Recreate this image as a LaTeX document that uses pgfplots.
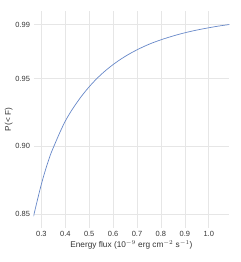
\documentclass[border=0pt]{standalone}
\usepackage{pgfplots}
\pgfplotsset{compat=1.18}
\usepackage{fontspec}
\setmainfont{Liberation Sans}
\definecolor{gridc}{HTML}{E6E6E6}
\definecolor{linec}{HTML}{6687C8}
\definecolor{txtc}{HTML}{333333}
\begin{document}
\begin{tikzpicture}
\begin{axis}[
  name=ax,
  scale only axis,
  width=195.8bp, height=217bp,
  xmin=0.267, xmax=1.086,
  ymin=0.8396, ymax=1.0,
  xtick={0.3,0.4,0.5,0.6,0.7,0.8,0.9,1.0},
  ytick={0.85,0.90,0.95,0.99},
  xticklabel style={/pgf/number format/.cd,fixed,fixed zerofill,precision=1},
  yticklabel style={/pgf/number format/.cd,fixed,fixed zerofill,precision=2},
  /pgf/number format/assume math mode=true,
  grid=major,
  major grid style={gridc, line width=0.6pt},
  x axis line style={draw=none},
  y axis line style={gridc, line width=0.6pt},
  tick style={draw=none},
  ticklabel style={font=\fontsize{7.5}{8.5}\selectfont, text=txtc},
  label style={font=\fontsize{8.3}{10}\selectfont, text=txtc},
  xlabel={Energy flux (10$^{-9}$ erg cm$^{-2}$ s$^{-1}$)},
  ylabel={P(< F)},
  xlabel style={yshift=3pt},
  ylabel style={yshift=-4pt},
  xtick pos=bottom, ytick pos=left,
]
\addplot[linec, line width=0.7pt, smooth, tension=0.6] coordinates {
(0.267,0.8482)
(0.300,0.8720)
(0.330,0.8897)
(0.354,0.9007)
(0.400,0.9186)
(0.450,0.9327)
(0.500,0.9440)
(0.550,0.9531)
(0.600,0.9604)
(0.650,0.9664)
(0.700,0.9713)
(0.750,0.9754)
(0.800,0.9787)
(0.850,0.9815)
(0.900,0.9839)
(0.950,0.9859)
(1.000,0.9876)
(1.043,0.9889)
(1.086,0.9900)
};
\end{axis}
\pgfresetboundingbox
\path (ax.south west)++(-33.5bp,-34bp) rectangle ([xshift=10.7bp,yshift=11bp]ax.north east);
\end{tikzpicture}
\end{document}
